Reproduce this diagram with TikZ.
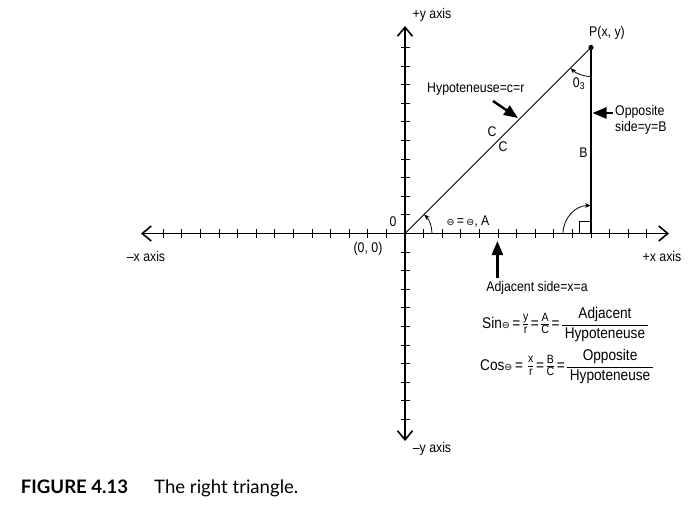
\documentclass[tikz,border=0pt]{standalone}
\usepackage{fontspec}
\setmainfont{Liberation Sans}[FakeStretch=0.88]
\newfontfamily\dejavu{DejaVu Sans}
\newfontfamily\capfont{Lato}
\usetikzlibrary{arrows.meta,calc}
\newcommand{\thet}{{\dejavu\fontsize{9.5}{10}\selectfont ⊖}}
\newcommand{\bfr}[2]{\ensuremath{\vcenter{\hbox{\setlength{\arrayrulewidth}{0.9pt}\renewcommand\arraystretch{1.0}\begin{tabular}{@{\,}c@{\,}}#1\\[1pt]\hline\rule{0pt}{12pt}#2\end{tabular}}}}}
\newcommand{\sfr}[2]{\ensuremath{\vcenter{\hbox{\fontsize{12}{12}\selectfont\setlength{\arrayrulewidth}{0.8pt}\renewcommand\arraystretch{0.8}\begin{tabular}{@{}c@{}}#1\\\hline\rule{0pt}{8.5pt}#2\end{tabular}}}}}
\begin{document}
\begin{tikzpicture}[x=1pt,y=1pt,
  every node/.style={font=\fontsize{14}{16}\selectfont, inner sep=0pt},
  axisline/.style={line width=1.8pt, {Straight Barb[length=9pt,width=15pt,line width=1.6pt]}-{Straight Barb[length=9pt,width=15pt,line width=1.6pt]}},
  tickmark/.style={line width=0.9pt},
  arcarrow/.style={line width=0.8pt, -{Stealth[length=6pt,width=4.5pt]}},
  pointer/.style={line width=2.4pt, -{Triangle[length=14pt,width=11pt]}},
  formula/.style={font=\fontsize{15.5}{18}\selectfont, anchor=west},
  capstyle/.style={font=\capfont\fontsize{18.6}{21}\selectfont, anchor=base west}]
\useasboundingbox (0,0) rectangle (699,507);
% key points
\coordinate (O) at (405,273.5);
\coordinate (xl) at (141,273.5);
\coordinate (xr) at (669,273.5);
\coordinate (yt) at (405,481);
\coordinate (yb) at (405,66);
\coordinate (P) at (591,459.5);
\coordinate (F) at (591,273.5);
% axes
\draw[axisline] (xl) -- (xr);
\draw[axisline] (yb) -- (yt);
\foreach \k in {-13,...,-1,1,2,...,13} \draw[tickmark] ($(O)+(18.6*\k,-4.5)$) -- ++(0,9);
\foreach \k in {-10,...,-1,1,2,...,10} \draw[tickmark] ($(O)+(-4.5,18.6*\k)$) -- ++(9,0);
% triangle
\draw[line width=0.9pt] (O) -- (P);
\draw[line width=1.7pt] (F) -- (P);
\fill (P) circle (2.6pt);
\draw[line width=0.8pt] ($(F)+(-12,0)$) |- ($(F)+(0,12.5)$);
% angle arcs
\draw[arcarrow] ($(O)+(27,0)$) arc[start angle=0,end angle=45,radius=27pt];
\draw[arcarrow] ($(F)+(-28,0)$) arc[start angle=180,end angle=90,radius=28pt];
\draw[arcarrow] ($(P)+(0,-29)$) arc[start angle=270,end angle=225,radius=29pt];
% labels
\node (ylab) at (432,492) {+y axis};
\node (nylab) at (432,58) {\textendash y axis};
\node (nxlab) at (146,251) {\textendash x axis};
\node (xlab) at (662,251) {+x axis};
\node (Plab) at (607,474) {P(x, y)};
\node (zero) at (393,285) {0};
\node (orig) at (368,258) {(0, 0)};
\node (thlab) at (468,285) {\thet\,=\,\thet, A};
\node (C1) at (492,375) {C};
\node (C2) at (503,360) {C};
\node (B) at (583.5,354) {B};
\node (th3) at (579,423) {0\textsubscript{3}};
\node[anchor=west] (hyp) at (427,418) {Hypoteneuse=c=r};
\node[anchor=west, align=left] (opp) at (615,387) {Opposite\\side=y=B};
\node (adj) at (537,219) {Adjacent side=x=a};
% pointers
\coordinate (hS) at (493,406);
\coordinate (hT) at (518,389);
\coordinate (oS) at (613,394);
\coordinate (oT) at (592.5,394);
\coordinate (aS) at (497.4,229);
\coordinate (aT) at (497.4,266);
\draw[pointer] (hS) -- (hT);
\draw[pointer] (oS) -- (oT);
\draw[pointer] (aS) -- (aT);
% formulas
\node[formula] (sinf) at (482,182) {Sin\thet\,=\,\sfr{y}{r}\,=\,\sfr{A}{C}\,=\,\bfr{Adjacent}{Hypoteneuse}};
\node[formula] (cosf) at (480,140) {Cos\thet\,=\,\,\sfr{x}{r}\,=\,\sfr{B}{C}\,=\,\bfr{Opposite}{Hypoteneuse}};
% caption
\node[capstyle] (figno) at (20.7,13.7) {\bfseries FIGURE 4.13};
\node[capstyle] (capt) at (154,13.7) {The right triangle.};
\end{tikzpicture}
\end{document}
